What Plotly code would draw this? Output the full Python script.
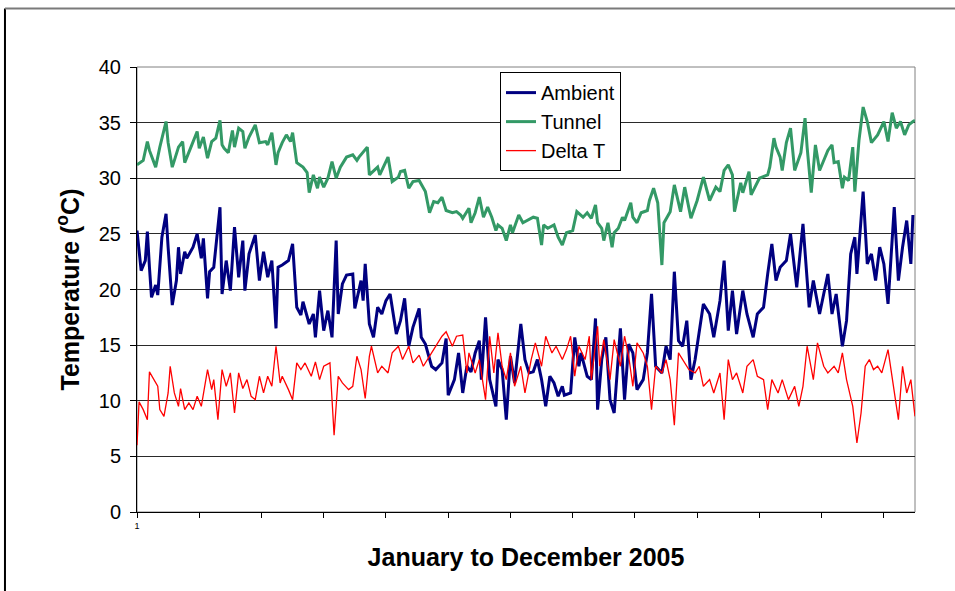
import plotly.graph_objects as go

# Sample index (1..376) across January-December 2005 and temperatures (°C)
ambient_x = [1,3,5,6,7,8,10,11,13,15,
             16,18,20,21,22,24,25,27,28,30,
             32,33,35,36,38,41,42,44,46,48,
             50,52,53,55,58,60,62,64,66,68,
             69,71,74,76,78,80,81,84,86,87,
             89,91,93,95,97,98,100,102,105,106,
             109,110,111,113,115,117,119,121,123,126,
             128,130,132,134,137,138,140,143,145,148,
             150,151,154,156,158,160,162,164,166,167,
             169,171,174,175,177,179,181,183,186,188,
             190,192,194,196,198,200,202,204,206,207,
             210,212,214,215,218,220,222,223,225,227,
             229,231,233,234,236,238,240,242,245,247,
             249,251,254,256,258,260,262,264,266,268,
             270,272,274,277,279,282,284,286,288,290,
             293,295,298,300,303,305,307,309,311,314,
             316,319,320,322,325,327,330,332,334,336,
             338,341,343,345,347,348,350,351,353,355,
             357,359,361,363,366,368,370,372,374,375]
ambient_y = [25.3,21.7,22.6,25.2,22.0,19.3,20.4,19.5,24.7,26.8,
             23.8,18.6,20.8,23.8,21.4,23.4,22.8,23.5,23.8,25.0,
             22.8,24.6,19.2,21.6,22.0,27.4,19.6,22.6,19.9,25.6,
             21.1,24.4,19.9,23.2,24.9,20.8,23.4,21.1,22.6,16.5,
             22.0,22.2,22.6,24.1,18.4,17.7,18.9,16.9,17.8,15.7,
             19.9,16.3,18.1,15.7,24.4,17.8,20.5,21.3,21.4,18.3,
             20.8,19.0,22.3,16.9,15.7,18.4,17.8,19.0,19.6,16.0,
             17.2,19.2,14.9,16.6,18.3,15.7,15.1,13.1,12.8,13.4,
             15.6,10.5,11.9,14.3,10.7,13.1,12.6,14.3,15.4,11.9,
             17.5,11.9,9.5,13.7,12.8,8.3,14.0,11.6,16.9,13.7,
             12.5,12.6,13.7,11.9,9.5,12.2,11.6,10.4,11.3,10.5,
             10.7,15.7,13.1,14.3,12.2,11.9,17.4,9.2,13.7,15.7,
             10.1,8.9,14.3,16.5,10.1,15.1,14.3,11.0,11.9,14.3,
             19.6,13.1,12.5,14.9,13.7,21.6,15.4,14.9,17.2,11.9,
             13.7,16.3,18.7,17.8,15.7,19.0,22.6,16.3,19.9,16.0,
             19.9,17.8,15.7,17.8,18.4,21.4,24.1,20.8,22.0,22.6,
             25.0,20.2,22.0,25.9,18.4,20.8,17.8,19.6,21.4,17.8,
             19.6,14.9,17.2,23.2,24.7,21.4,26.2,28.8,22.3,23.2,
             20.8,23.8,22.3,18.7,27.4,20.8,23.8,26.2,22.3,26.7]

tunnel_x = [1,4,6,7,10,12,15,16,18,21,
            23,24,27,29,30,31,33,35,37,39,
            41,42,43,45,47,48,50,52,53,55,
            58,60,63,64,66,68,69,71,73,75,
            76,78,81,83,84,86,88,89,91,93,
            95,97,99,102,105,107,108,112,113,117,
            118,122,124,127,128,130,132,134,137,140,
            142,144,146,148,150,153,155,157,158,161,
            162,164,166,168,170,172,174,175,177,179,
            181,182,185,187,189,192,194,196,197,199,
            202,204,206,208,211,212,213,216,218,220,
            222,223,225,226,228,230,231,233,235,236,
            239,240,242,244,247,248,250,252,253,254,
            255,258,260,263,265,268,271,274,277,280,
            282,284,286,288,289,292,293,296,297,300,
            301,305,306,308,309,311,312,314,316,318,
            321,323,324,326,328,330,332,334,336,337,
            339,341,342,344,346,347,349,351,353,355,
            358,361,363,365,367,369,371,373,375,376]
tunnel_y = [31.2,31.6,33.3,32.5,31.0,32.8,35.1,33.2,31.0,32.8,
            33.3,31.4,32.8,33.7,34.2,32.7,33.7,31.8,33.3,33.6,
            35.2,33.0,32.7,32.3,34.3,32.8,34.5,34.2,32.7,33.7,
            34.8,33.2,33.3,33.0,34.1,31.2,32.3,33.2,33.9,33.3,
            34.1,31.4,31.0,30.5,28.7,30.3,29.1,30.1,29.2,30.0,
            31.5,30.0,31.0,31.9,32.1,31.6,31.9,32.8,30.3,31.0,
            30.3,31.9,29.7,30.1,30.6,30.7,29.1,29.7,29.8,28.8,
            26.9,27.9,27.8,28.3,27.1,26.9,27.0,26.7,26.4,27.3,
            26.0,26.9,28.3,26.5,27.4,26.5,25.3,25.8,25.5,24.4,
            25.8,25.1,26.7,26.0,26.2,26.5,26.4,24.0,25.8,25.5,
            25.8,24.7,24.0,25.1,25.3,26.2,27.0,26.5,26.9,26.4,
            27.6,26.0,25.5,24.4,26.0,23.8,25.1,25.5,26.5,26.2,
            27.8,26.5,26.0,26.9,27.1,28.0,29.1,27.8,25.1,22.2,
            26.0,27.0,29.4,27.0,29.2,26.4,28.0,30.1,28.0,29.2,
            28.8,30.7,31.2,30.3,27.0,29.6,28.7,30.6,28.5,29.7,
            30.0,30.3,31.0,33.6,32.8,31.9,30.7,33.2,34.5,30.7,
            32.3,35.4,32.8,28.7,33.0,30.7,31.6,32.5,33.0,31.4,
            31.5,29.1,30.1,29.8,32.8,28.8,33.4,36.4,35.1,33.2,
            33.9,35.1,33.3,35.9,34.5,35.1,33.9,34.8,35.1,35.2]

delta_x = [1,2,4,6,7,9,11,12,14,16,
           17,19,21,22,24,26,28,30,32,35,
           37,38,40,42,44,46,48,50,52,54,
           56,58,60,62,64,66,68,70,71,74,
           76,78,80,82,85,87,89,91,94,96,
           98,100,103,105,107,109,111,113,114,117,
           119,122,124,127,129,132,134,137,139,143,
           145,148,150,153,155,158,160,161,164,166,
           169,171,173,175,177,179,181,183,186,188,
           191,193,196,198,201,203,206,208,210,212,
           214,217,219,220,223,224,226,229,231,234,
           236,238,240,242,245,247,249,251,254,256,
           258,260,262,264,267,270,272,274,277,279,
           282,284,286,288,290,293,295,298,300,303,
           305,307,310,312,315,318,320,322,324,327,
           329,332,334,337,339,341,343,346,348,350,
           352,354,356,358,360,363,365,368,370,372,
           374,376]
delta_y = [6.0,9.9,9.2,8.3,12.6,11.9,11.3,9.2,8.6,10.7,
           13.1,10.7,9.5,11.1,9.2,9.8,9.2,10.4,9.5,12.8,
           11.0,11.9,8.3,12.8,11.3,12.5,8.9,12.5,11.1,11.9,
           10.4,10.1,12.2,10.7,12.2,11.3,14.9,11.6,12.2,11.0,
           10.1,13.4,12.8,13.4,12.2,13.5,11.9,13.1,13.4,6.9,
           12.2,11.6,11.0,11.3,14.0,12.8,10.2,14.0,14.9,12.5,
           13.1,12.5,14.3,14.9,13.7,14.9,13.4,14.1,13.1,14.3,
           14.9,15.8,16.2,14.9,15.8,15.9,12.5,14.3,12.5,13.7,
           10.1,15.8,12.5,16.1,13.1,11.9,14.3,11.3,13.1,10.7,
           13.7,15.2,13.1,15.8,14.3,14.9,13.7,14.6,15.8,12.2,
           14.9,13.7,15.8,11.9,16.7,13.1,15.5,11.9,15.5,13.1,
           15.8,14.0,11.3,15.2,14.3,13.1,9.2,13.1,12.5,13.7,
           11.9,7.8,14.3,13.7,12.8,12.5,13.1,11.3,11.9,10.7,
           12.5,8.3,13.7,11.9,12.5,10.7,13.1,13.7,12.2,11.9,
           9.2,11.9,10.7,11.9,10.1,11.3,9.5,11.3,14.9,11.9,
           15.2,13.1,12.5,13.1,12.5,14.3,11.9,9.5,6.2,8.9,
           13.1,13.7,12.8,13.1,12.5,14.6,11.9,8.3,13.1,10.7,
           11.9,8.6]

tick_vals = list(range(1, 377, 30))
tick_text = ["1"] + [""] * (len(tick_vals) - 1)

FONT = "Liberation Sans, Arial, sans-serif"

fig = go.Figure()
fig.add_trace(go.Scatter(x=ambient_x, y=ambient_y, mode="lines", name="Ambient",
                         line=dict(color="#000080", width=3)))
fig.add_trace(go.Scatter(x=tunnel_x, y=tunnel_y, mode="lines", name="Tunnel",
                         line=dict(color="#339966", width=3)))
fig.add_trace(go.Scatter(x=delta_x, y=delta_y, mode="lines", name="Delta T",
                         line=dict(color="#FF0000", width=1.3)))

fig.update_layout(
    width=955, height=591,
    margin=dict(l=137, r=40, t=67, b=79),
    paper_bgcolor="white", plot_bgcolor="white",
    font=dict(family=FONT, color="black"),
    showlegend=True,
    legend=dict(x=0.4666, y=0.9885, xanchor="left", yanchor="top",
                bgcolor="white", bordercolor="black", borderwidth=1,
                font=dict(size=20, family=FONT), itemwidth=30, tracegroupgap=0),
    xaxis=dict(range=[1, 376], tickmode="array", tickvals=tick_vals, ticktext=tick_text,
               ticks="outside", ticklen=5, tickcolor="black", tickwidth=1,
               showline=True, linecolor="black", linewidth=1,
               showgrid=False, zeroline=False, tickfont=dict(size=9),
               title=dict(text="<b>January to December 2005</b>", font=dict(size=25),
                          standoff=18)),
    yaxis=dict(range=[0, 40], dtick=5, tick0=0,
               ticks="outside", ticklen=6, tickcolor="black", tickwidth=1,
               ticklabelstandoff=5,
               showline=True, linecolor="black", linewidth=1,
               showgrid=True, gridcolor="#2a2a2a", gridwidth=1, zeroline=False,
               tickfont=dict(size=20),
               title=dict(text="<b>Temperature (<sup>o</sup>C)</b>", font=dict(size=25),
                          standoff=12)),
    shapes=[
        dict(type="rect", xref="paper", yref="paper", x0=0, y0=0, x1=1, y1=1,
             line=dict(color="#808080", width=1), layer="below"),
        dict(type="line", xref="paper", yref="paper", x0=-0.1697, x1=-0.1697,
             y0=-0.25, y1=1.1315, line=dict(color="black", width=2)),
        dict(type="line", xref="paper", yref="paper", x0=-0.1697, x1=1.1,
             y0=1.1315, y1=1.1315, line=dict(color="#7a7a7a", width=2)),
    ],
)

fig.write_html("out.html", config={"displayModeBar": False},
               post_script="document.body.style.margin='0';")
